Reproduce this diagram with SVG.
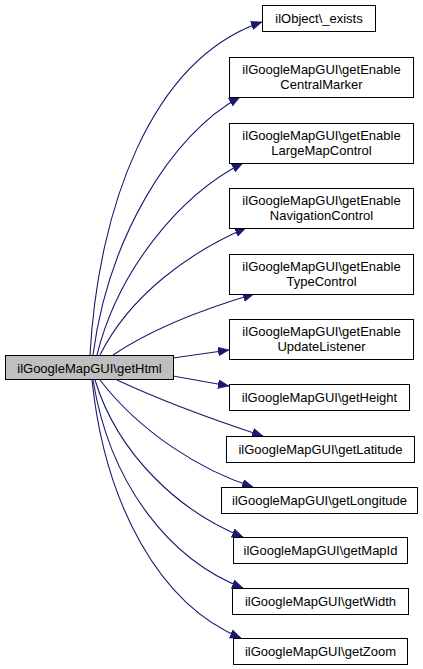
<svg xmlns="http://www.w3.org/2000/svg" width="423" height="669" viewBox="0 0 423 669">
<style>
.n rect{fill:#ffffff;stroke:#000000;stroke-width:1}
.src rect{fill:#bfbfbf;stroke:#000000;stroke-width:1}
text{font-family:"Liberation Sans",Arial,Helvetica,sans-serif;font-size:13px;fill:#000000;text-anchor:middle}
.e path{fill:none;stroke:#191970;stroke-width:1.1}
</style>
<defs>
<marker id="ah" markerUnits="userSpaceOnUse" markerWidth="12" markerHeight="10" refX="11" refY="4.5" orient="auto">
<path d="M0,0 L11,4.5 L0,9 Z" fill="#191970" stroke="#191970" stroke-width="0.5"/>
</marker>
</defs>
<rect width="423" height="669" fill="#ffffff"/>
<g id="edges" class="e">
<path marker-end="url(#ah)" d="M90,355 C98,210 150,60 262,22"/>
<path marker-end="url(#ah)" d="M93,355 C108,240 170,135 240,97"/>
<path marker-end="url(#ah)" d="M97,355 C118,270 180,195 243,163"/>
<path marker-end="url(#ah)" d="M100,355 C130,295 190,252 246,228"/>
<path marker-end="url(#ah)" d="M113,355 C150,330 200,310 254,294"/>
<path marker-end="url(#ah)" d="M173,358 L229,350"/>
<path marker-end="url(#ah)" d="M173,376 L229,386"/>
<path marker-end="url(#ah)" d="M117,380 C160,400 220,422 263,436"/>
<path marker-end="url(#ah)" d="M100,380 C140,432 200,470 253,487"/>
<path marker-end="url(#ah)" d="M95,380 C118,455 180,512 243,537"/>
<path marker-end="url(#ah)" d="M93,380 C110,485 170,560 243,588"/>
<path marker-end="url(#ah)" d="M92,380 C105,505 160,605 241,638"/>
</g>
<g id="node_getHtml" class="src"><rect x="5.5" y="355.5" width="168" height="24"/><text x="89.5" y="372.5">ilGoogleMapGUI\getHtml</text></g>
<g id="node_exists" class="n"><rect x="262.5" y="5.5" width="113" height="26"/><text x="319" y="23">ilObject\_exists</text></g>
<g id="node_CentralMarker" class="n"><rect x="229.5" y="57.5" width="184" height="40"/><text x="321.5" y="74">ilGoogleMapGUI\getEnable</text><text x="321.5" y="89">CentralMarker</text></g>
<g id="node_LargeMapControl" class="n"><rect x="229.5" y="123.5" width="184" height="40"/><text x="321.5" y="140">ilGoogleMapGUI\getEnable</text><text x="321.5" y="155">LargeMapControl</text></g>
<g id="node_NavigationControl" class="n"><rect x="229.5" y="188.5" width="184" height="40"/><text x="321.5" y="205">ilGoogleMapGUI\getEnable</text><text x="321.5" y="220">NavigationControl</text></g>
<g id="node_TypeControl" class="n"><rect x="229.5" y="254.5" width="184" height="40"/><text x="321.5" y="271">ilGoogleMapGUI\getEnable</text><text x="321.5" y="286">TypeControl</text></g>
<g id="node_UpdateListener" class="n"><rect x="229.5" y="319.5" width="184" height="40"/><text x="321.5" y="336">ilGoogleMapGUI\getEnable</text><text x="321.5" y="351">UpdateListener</text></g>
<g id="node_getHeight" class="n"><rect x="229.5" y="384.5" width="180" height="26"/><text x="319.5" y="402">ilGoogleMapGUI\getHeight</text></g>
<g id="node_getLatitude" class="n"><rect x="226.5" y="436.5" width="188" height="26"/><text x="320.5" y="454">ilGoogleMapGUI\getLatitude</text></g>
<g id="node_getLongitude" class="n"><rect x="221.5" y="487.5" width="196" height="26"/><text x="319.5" y="505">ilGoogleMapGUI\getLongitude</text></g>
<g id="node_getMapId" class="n"><rect x="233.5" y="537.5" width="174" height="26"/><text x="320.5" y="555">ilGoogleMapGUI\getMapId</text></g>
<g id="node_getWidth" class="n"><rect x="232.5" y="588.5" width="176" height="26"/><text x="320.5" y="606">ilGoogleMapGUI\getWidth</text></g>
<g id="node_getZoom" class="n"><rect x="233.5" y="638.5" width="174" height="26"/><text x="320.5" y="656">ilGoogleMapGUI\getZoom</text></g>
</svg>
